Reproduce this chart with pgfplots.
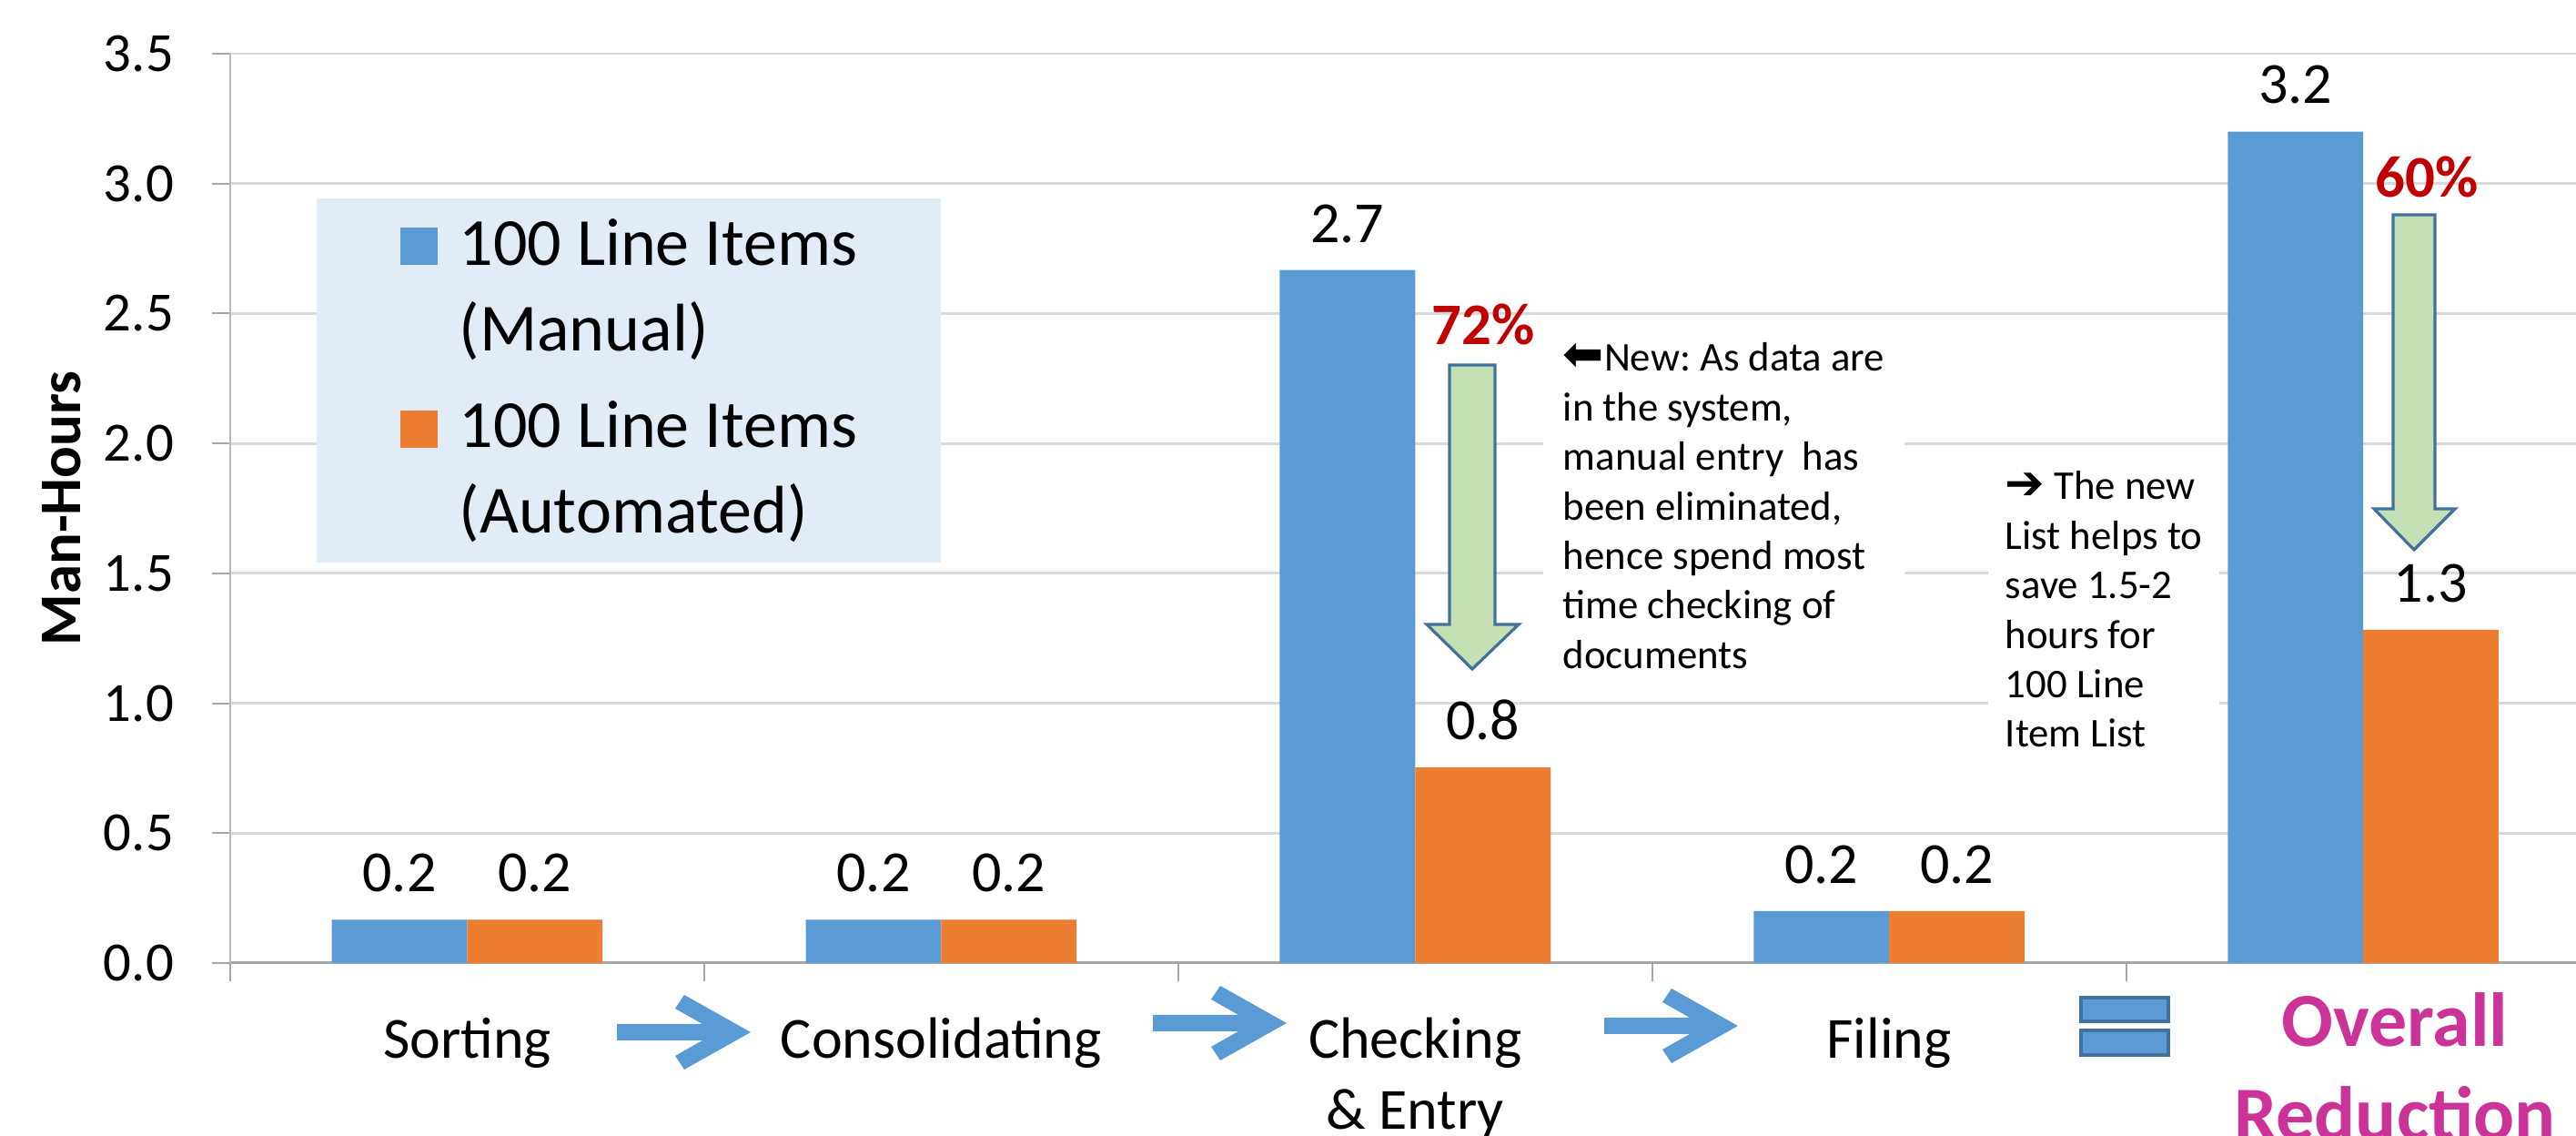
\documentclass[border=0pt]{standalone}
\usepackage{fontspec}
\setmainfont{Carlito}
\newfontfamily\dejavu{DejaVu Sans}
\usepackage{pgfplots}
\pgfplotsset{compat=1.18}
\frenchspacing
\definecolor{barblue}{HTML}{5B9BD5}
\definecolor{barorange}{HTML}{ED7D31}
\definecolor{gridgray}{HTML}{D9D9D9}
\definecolor{axisgray}{HTML}{A6A6A6}
\definecolor{legendfill}{HTML}{E2ECF6}
\definecolor{arrowgreen}{HTML}{C5E0B4}
\definecolor{arrowborder}{HTML}{41719C}
\definecolor{pctred}{HTML}{C00000}
\definecolor{overallmag}{HTML}{CC3399}

\begin{document}
\begin{tikzpicture}
\begin{axis}[
  at={(0pt,0pt)}, anchor=south west,
  scale only axis, width=651.125pt, height=249.75pt,
  xmin=-0.5, xmax=4.5, ymin=0, ymax=3.5,
  clip=false,
  ybar, bar width=37.2pt,
  axis x line*=bottom, axis y line*=left,
  x axis line style={-, draw=axisgray, line width=0.75pt},
  y axis line style={-, draw=axisgray!80, line width=0.5pt},
  tick align=outside, major tick length=5pt,
  tick style={draw=axisgray, line width=0.5pt},
  xtick={-0.5,0.5,1.5,2.5,3.5,4.5}, xticklabels={},
  extra x ticks={0,1,2,3},
  extra x tick labels={Sorting,Consolidating,{Checking\\\& Entry},Filing},
  extra x tick style={major tick length=0pt, grid=none},
  xticklabel style={font=\fontsize{16}{19.5}\selectfont, align=center, yshift=-11.5pt},
  ytick={0,0.5,1,1.5,2,2.5,3,3.5},
  yticklabel style={font=\fontsize{15.2}{18}\selectfont, xshift=-7pt, /pgf/number format/.cd, fixed, fixed zerofill, precision=1, /tikz/.cd},
  /pgf/number format/assume math mode=true,
  ymajorgrids, grid style={draw=gridgray, line width=0.7pt},
  ylabel={Man-Hours},
  ylabel style={font=\bfseries\fontsize{16.2}{19}\selectfont, at={(axis description cs:-0.0712,0.5)}, anchor=center},
  nodes near coords={\pgfmathprintnumber[fixed,fixed zerofill,precision=1]{\pgfplotspointmeta}},
  nodes near coords style={font=\fontsize{16}{19}\selectfont, yshift=4pt},
  legend cell align=left,
  legend style={at={(axis description cs:0.0361,0.8418)}, anchor=north west, fill=legendfill, draw=none,
    font=\fontsize{18.5}{23.4}\selectfont, inner xsep=23pt, inner ysep=5.5pt, row sep=11.15pt, column sep=6pt,
    cells={anchor=north west, align=left}, nodes={inner sep=0pt, text depth=}},
  legend image code/.code={\fill[#1] (0pt,-12.9pt) rectangle (10.25pt,-2.65pt);},
]
\addplot[fill=barblue, draw=none, bar shift=-18.6pt] coordinates {(0,0.167) (1,0.167) (2,2.667) (3,0.2) (4,3.2)};
\addlegendentry{100 Line Items\\(Manual)}
\addplot[fill=barorange, draw=none, bar shift=18.6pt] coordinates {(0,0.167) (1,0.167) (2,0.753) (3,0.2) (4,1.283)};
\addlegendentry{100 Line Items\\(Automated)}
\end{axis}

\begin{scope}[x=0.25pt, y=-0.25pt, shift={(-63.25pt,264.5pt)}]
  % blue process arrows
  \foreach \dx/\dy in {0/0, 589/-10, 1085/-7}{
    \fill[barblue, shift={(\dx,\dy)}] (678,1125) -- (772,1125) -- (742,1108) -- (752,1093) -- (825,1134)
      -- (752,1175) -- (742,1160) -- (772,1143) -- (678,1143) -- cycle;
  }
  % equals sign
  \filldraw[fill=barblue, draw=arrowborder, line width=0.8pt] (2287,1096) rectangle (2383,1122);
  \filldraw[fill=barblue, draw=arrowborder, line width=0.8pt] (2287,1132) rectangle (2383,1159);
  % green reduction arrows
  \filldraw[fill=arrowgreen, draw=arrowborder, line width=0.8pt]
    (1593,401) -- (1643,401) -- (1643,686) -- (1669,686) -- (1618,735) -- (1568,686) -- (1593,686) -- cycle;
  \filldraw[fill=arrowgreen, draw=arrowborder, line width=0.8pt]
    (2630,236) -- (2676,236) -- (2676,559) -- (2698,559) -- (2653,604) -- (2609,559) -- (2630,559) -- cycle;
  % percentages
  \node[font=\bfseries\fontsize{16.2}{19}\selectfont, text=pctred] at (1630,356) {72\%};
  \node[font=\bfseries\fontsize{16.2}{19}\selectfont, text=pctred] at (2667,194) {60\%};
  % notes
  \node[anchor=north west, fill=white, inner xsep=5.5pt, inner ysep=4pt, align=left,
        font=\fontsize{11.2}{13.6}\selectfont] at (1695,360)
    {{\dejavu\fontsize{13.5}{13.6}\selectfont\char"2B05}New: As data are\\in the system,\\manual entry~ has\\been eliminated,\\hence spend most\\time checking of\\documents};
  \node[anchor=north west, fill=white, inner xsep=4.75pt, inner ysep=3pt, align=left,
        font=\fontsize{11.2}{13.6}\selectfont] at (2184,505)
    {{\dejavu\fontsize{13}{13.6}\selectfont\char"2794}~The new\\List helps to\\save 1.5-2\\hours for\\100 Line\\Item List};
  % overall reduction label
  \node[anchor=base, font=\bfseries\fontsize{21}{25.75}\selectfont, text=overallmag] at (2632,1150) {Overall};
  \node[anchor=base, font=\bfseries\fontsize{21}{25.75}\selectfont, text=overallmag] at (2632,1253) {Reduction};
\end{scope}

\pgfresetboundingbox
\path[use as bounding box] (-63.25pt,-47.5pt) rectangle (644.5pt,264.5pt);
\end{tikzpicture}
\end{document}
